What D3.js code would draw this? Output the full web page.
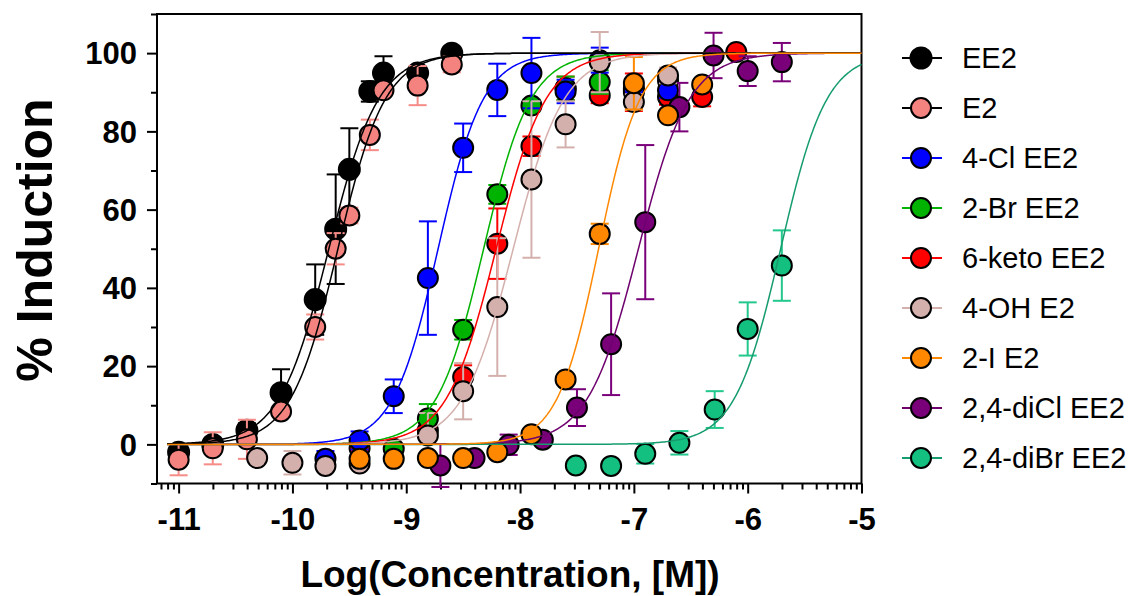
<!DOCTYPE html>
<html>
<head>
<meta charset="utf-8">
<script src="https://cdn.jsdelivr.net/npm/d3@7"></script>
<style>
  body { margin: 0; background: #fff; }
  text { font-family: "Liberation Sans", Arial, Helvetica, sans-serif; }
</style>
</head>
<body>
<script>
// axis ticks
const X_TICKS = [-11, -10, -9, -8, -7, -6, -5];
const Y_TICKS = [0, 20, 40, 60, 80, 100];
const Y_MINOR = [-10, 10, 30, 50, 70, 90, 110];

// compound names (legend order)
const NAMES = ["EE2", "E2", "4-Cl EE2", "2-Br EE2", "6-keto EE2", "4-OH E2", "2-I E2", "2,4-diCl EE2", "2,4-diBr EE2"];

// log concentration, % induction, error
const ee2LogC = [-11.0, -10.7, -10.4, -10.1, -9.8, -9.62, -9.5, -9.32, -9.2, -8.9, -8.6];
const ee2Resp = [-2.0, 0.0, 3.6, 13.2, 37, 55, 70.3, 90.2, 94.9, 94.9, 100];
const ee2Err  = [1, 1, 1.8, 6, 9, 14, 10.5, 2.6, 4.3, 1, 1];

const e2LogC = [-11.0, -10.7, -10.4, -10.1, -9.8, -9.62, -9.5, -9.32, -9.2, -8.9, -8.6];
const e2Resp = [-3.9, -1.0, 1.3, 8.4, 30, 50, 58.5, 79.1, 90.5, 91.7, 97.1];
const e2Err  = [4, 4.1, 5, 1, 3.2, 4, 2, 3.9, 1, 5, 2];

const clLogC = [-9.71, -9.41, -9.11, -8.81, -8.5, -8.2, -7.9, -7.6, -7.3, -7.0, -6.7];
const clResp = [-3.7, 1.0, 12.3, 42.5, 75.8, 90.6, 94.9, 90.2, 98.2, 90.5, 90.5];
const clErr  = [2, 2.3, 4.3, 14.5, 6.2, 6.7, 9, 3, 3.2, 2, 2];

const brLogC = [-9.11, -8.81, -8.5, -8.2, -7.9, -7.6, -7.3, -7.0, -6.7];
const brResp = [-1.1, 6.6, 29.3, 63.9, 86.6, 91, 92.6, 91, 93];
const brErr  = [1, 3.7, 2.5, 2.4, 1.5, 3, 3, 2, 2];

const ketoLogC = [-9.41, -8.81, -8.5, -8.2, -7.9, -7.6, -7.3, -7.0, -6.7, -6.4, -6.1];
const ketoResp = [-1.0, 3.6, 17.2, 51.3, 76.2, 91, 89.2, 90, 88.8, 88.8, 100.3];
const ketoErr  = [1, 2, 3, 9, 2.5, 3, 2, 4.8, 2, 2.4, 1];

const ohLogC = [-10.31, -10.0, -9.71, -9.41, -8.81, -8.5, -8.2, -7.9, -7.6, -7.3, -7.0, -6.7];
const ohResp = [-3.5, -4.7, -5.5, -4.9, 2.3, 13.6, 35.1, 67.7, 81.8, 97.7, 87.5, 94.3];
const ohErr  = [1, 3, 1, 1, 5.7, 7.2, 17.6, 20, 5.9, 7.7, 2, 2];

const iLogC = [-9.41, -9.11, -8.81, -8.5, -8.2, -7.9, -7.6, -7.3, -7.0, -6.7, -6.4];
const iResp = [-3.7, -3.7, -3.5, -3.5, -2.0, 2.6, 16.6, 53.8, 92.3, 84.1, 92];
const iErr  = [1, 1, 1, 1, 1, 1, 1, 2.6, 6.7, 1, 1];

const diclLogC = [-8.7, -8.4, -8.1, -7.8, -7.5, -7.2, -6.9, -6.6, -6.3, -6.0, -5.7];
const diclResp = [-5.4, -3.5, -0.1, 1.2, 9.4, 25.6, 56.8, 86.2, 99.4, 95.4, 97.7];
const diclErr  = [5.5, 1, 2.6, 1, 4.7, 13, 19.7, 6.2, 5.8, 3.8, 4.9];

const dibrLogC = [-7.51, -7.2, -6.9, -6.6, -6.29, -6.0, -5.7];
const dibrResp = [-5.4, -5.5, -2.4, 0.4, 8.9, 29.5, 45.7];
const dibrErr  = [1, 1, 2.5, 3, 4.7, 6.8, 9];

// fitted curves: logEC50 and hill slope (bottom 0, top 100)
const LOG_EC50 = [-9.68, -9.60, -8.72, -8.32, -8.21, -8.06, -7.31, -6.96, -5.71];
const HILL     = [2.0, 2.1, 2.2, 2.1, 2.0, 1.95, 2.4, 1.95, 2.15];

// styles
const FILL  = ["#000000", "#f4837f", "#0000ff", "#00b300", "#ff0000", "#d4b0ad", "#ff8800", "#7a007a", "#14c080"];
const BAR   = ["#000000", "#f68c88", "#0000ff", "#00b300", "#ff0000", "#d4b0ad", "#ff8800", "#7a007a", "#22c88c"];
const CURVE = ["#000000", "#000000", "#0000ff", "#00b300", "#ff0000", "#d4b0ad", "#ff8800", "#6e006e", "#179c6e"];

const series = [
  [ee2LogC, ee2Resp, ee2Err], [e2LogC, e2Resp, e2Err], [clLogC, clResp, clErr],
  [brLogC, brResp, brErr], [ketoLogC, ketoResp, ketoErr], [ohLogC, ohResp, ohErr],
  [iLogC, iResp, iErr], [diclLogC, diclResp, diclErr], [dibrLogC, dibrResp, dibrErr]
].map(([lc, r, e], i) => ({
  idx: i, name: NAMES[i],
  pts: lc.map((v, j) => ({ x: v, y: r[j], err: e[j] }))
}));

// plot order for the points and for the curves
const POINT_ORDER = [0, 1, 4, 3, 2, 7, 8, 5, 6];
const CURVE_ORDER = [2, 3, 4, 5, 7, 8, 1, 0, 6];

const W = 1137, H = 596;
const svg = d3.select("body").append("svg").attr("width", W).attr("height", H);

const x = d3.scaleLinear().domain([-11.19, -5]).range([157, 861.5]);
const y = d3.scaleLinear().domain([-10, 110]).range([483.5, 14]);

// minor x ticks at 2..9 within each decade
const xMinor = [];
for (let d = -12; d < -5; d++) {
  for (let k = 2; k <= 9; k++) {
    const v = d + Math.log10(k);
    if (v >= -11.19 && v <= -5) xMinor.push(v);
  }
}

// x axis
const gx = svg.append("g").attr("transform", "translate(0,483.5)");
gx.call(d3.axisBottom(x).tickValues(X_TICKS).tickSize(10).tickPadding(14).tickFormat(d => String(d)));
gx.append("g").call(d3.axisBottom(x).tickValues(xMinor).tickSize(6).tickFormat(""));

// y axis
const gy = svg.append("g").attr("transform", "translate(157,0)");
gy.call(d3.axisLeft(y).tickValues(Y_TICKS).tickSize(10).tickPadding(10));
gy.append("g").call(d3.axisLeft(y).tickValues(Y_MINOR).tickSize(6).tickFormat(""));

svg.selectAll(".domain").remove();
svg.selectAll(".tick line").attr("stroke", "#000").attr("stroke-width", 2);
gx.selectAll(".tick text").attr("font-size", 31).attr("font-weight", "bold").attr("fill", "#000")
  .attr("font-family", "'Liberation Sans', Arial, sans-serif");
gy.selectAll(".tick text").attr("font-size", 31).attr("font-weight", "bold").attr("fill", "#000")
  .attr("dy", "0.35em").attr("font-family", "'Liberation Sans', Arial, sans-serif");

// frame
svg.append("rect")
  .attr("x", 157).attr("y", 14)
  .attr("width", 861.5 - 157).attr("height", 483.5 - 14)
  .attr("fill", "none").attr("stroke", "#000").attr("stroke-width", 2);

// points with error bars
const capHalf = 9;
POINT_ORDER.forEach(i => {
  const s = series[i];
  const g = svg.append("g").attr("class", "series");
  const eb = g.selectAll(".eb").data(s.pts).enter().append("g")
    .attr("stroke", BAR[i]).attr("stroke-width", 2);
  eb.append("line")
    .attr("x1", d => x(d.x)).attr("x2", d => x(d.x))
    .attr("y1", d => y(d.y - d.err)).attr("y2", d => y(d.y + d.err));
  eb.append("line")
    .attr("x1", d => x(d.x) - capHalf).attr("x2", d => x(d.x) + capHalf)
    .attr("y1", d => y(d.y + d.err)).attr("y2", d => y(d.y + d.err));
  eb.append("line")
    .attr("x1", d => x(d.x) - capHalf).attr("x2", d => x(d.x) + capHalf)
    .attr("y1", d => y(d.y - d.err)).attr("y2", d => y(d.y - d.err));
  g.selectAll("circle").data(s.pts).enter().append("circle")
    .attr("cx", d => x(d.x)).attr("cy", d => y(d.y))
    .attr("r", i === 0 ? 10.5 : 10)
    .attr("fill", FILL[i]).attr("stroke", "#000").attr("stroke-width", 2);
});

// fitted curves
const hill = (lx, i) => 100 / (1 + Math.pow(10, (LOG_EC50[i] - lx) * HILL[i]));
const xs = d3.range(-11.1, -4.999, 0.01);
const line = d3.line().x(d => x(d[0])).y(d => y(d[1]));
CURVE_ORDER.forEach(i => {
  svg.append("path")
    .attr("d", line(xs.map(v => [v, hill(v, i)])))
    .attr("fill", "none").attr("stroke", CURVE[i]).attr("stroke-width", 1.5);
});

// axis titles
svg.append("text")
  .attr("x", 510).attr("y", 587)
  .attr("text-anchor", "middle")
  .attr("font-size", 37).attr("font-weight", "bold")
  .text("Log(Concentration, [M])");

svg.append("text")
  .attr("transform", "translate(52,240) rotate(-90)")
  .attr("text-anchor", "middle")
  .attr("font-size", 50).attr("font-weight", "bold")
  .text("% Induction");

// legend
const legend = svg.append("g");
NAMES.forEach((name, i) => {
  const ly = 58 + i * 50;
  legend.append("line")
    .attr("x1", 902).attr("x2", 942).attr("y1", ly).attr("y2", ly)
    .attr("stroke", CURVE[i]).attr("stroke-width", 2);
  legend.append("circle")
    .attr("cx", 921).attr("cy", ly).attr("r", i === 0 ? 10.5 : 10)
    .attr("fill", FILL[i]).attr("stroke", "#000").attr("stroke-width", 2);
  legend.append("text")
    .attr("x", 962).attr("y", ly).attr("dy", "0.36em")
    .attr("font-size", 29)
    .text(name);
});
</script>
</body>
</html>
